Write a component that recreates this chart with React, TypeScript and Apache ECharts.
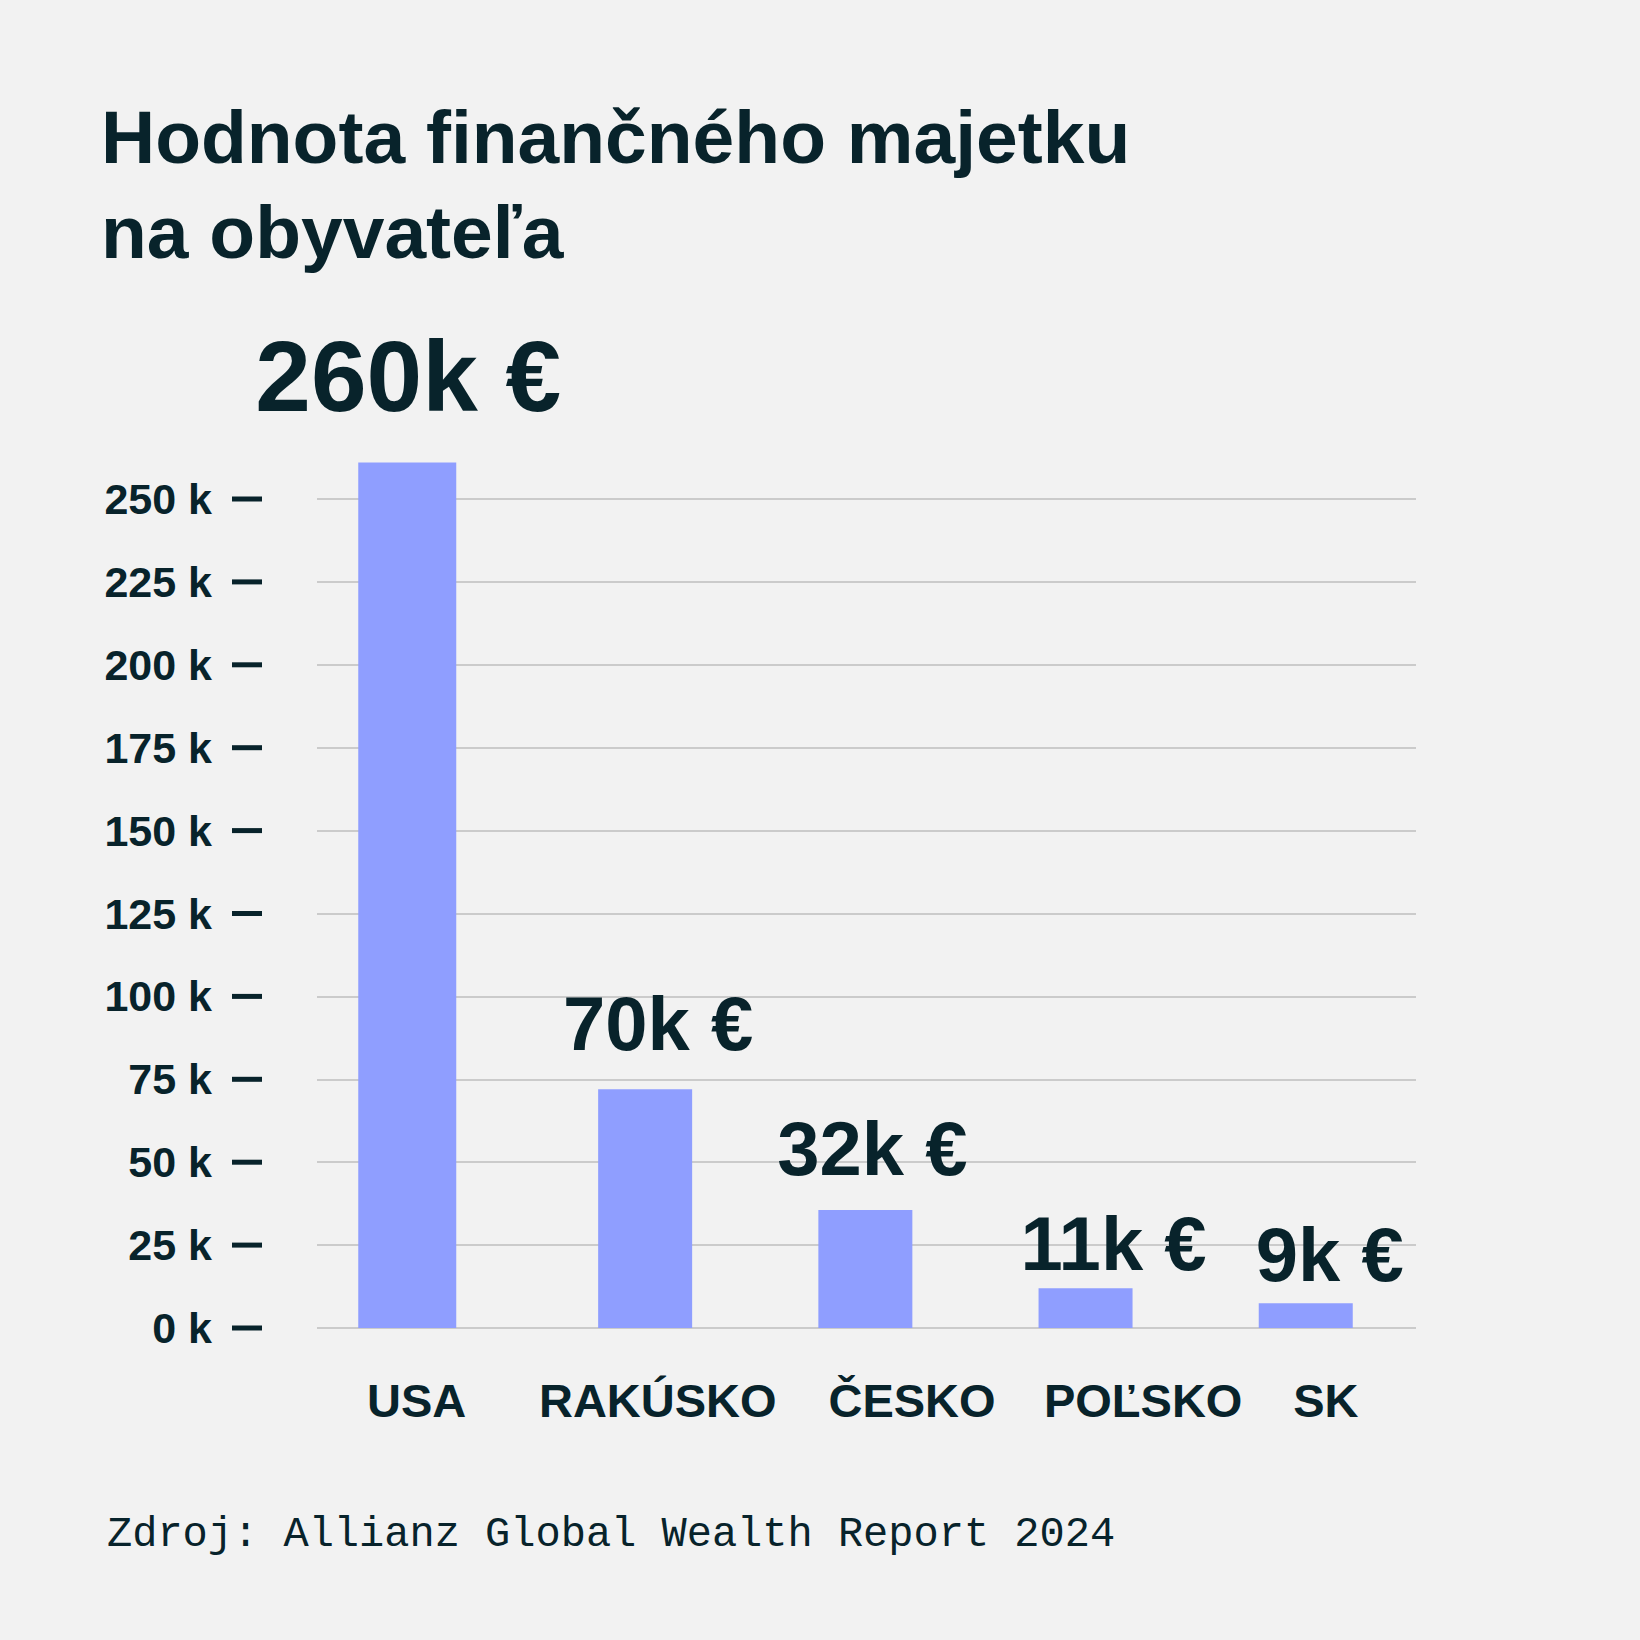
import React, { useEffect, useRef } from "react";
import * as echarts from "echarts";

const categories = ["USA", "RAKÚSKO", "ČESKO", "POĽSKO", "SK"];
const barValues = [261000, 72000, 35600, 12000, 7500];
const valueLabels = ["260k €", "70k €", "32k €", "11k €", "9k €"];
const yMin = 0;
const yMax = 250000;
const yInterval = 25000;
const titleText = "Hodnota finančného majetku\nna obyvateľa";
const sourceText = "Zdroj: Allianz Global Wealth Report 2024";

// styling (positions/offsets), kept apart from data
const labelFontSizes = [100, 76, 76, 76, 76];
const labelOffsets: [number, number][] = [
  [1, -37],
  [13, -28],
  [7, -23],
  [28, -7],
  [24, -11],
];
const catPads: [number, number][] = [
  [3, 0],
  [45, 0],
  [113, 0],
  [135, 0],
  [60, 0],
];

const DARK = "#08232b";
const BG = "#f2f2f2";
const BAR = "#8f9eff";
const SANS = "'Liberation Sans', Arial, sans-serif";
const MONO = "'Liberation Mono', 'DejaVu Sans Mono', monospace";

export default function App() {
  const ref = useRef<HTMLDivElement>(null);
  useEffect(() => {
    if (!ref.current) return;
    const chart = echarts.init(ref.current, null, { renderer: "svg" });
    const rich: any = {};
    catPads.forEach((p, i) => {
      rich["c" + i] = {
        fontFamily: SANS,
        fontWeight: "bold",
        fontSize: 47,
        color: DARK,
        padding: [0, p[1], 0, p[0]],
      };
    });
    const item = (v: number, i: number) => ({
      value: v,
      label: {
        formatter: valueLabels[i],
        fontSize: labelFontSizes[i],
        offset: labelOffsets[i],
      },
    });
    const baseLabel = {
      show: true,
      position: "top",
      distance: 0,
      fontFamily: SANS,
      fontWeight: "bold",
      color: DARK,
    };
    chart.setOption({
      animation: false,
      backgroundColor: BG,
      title: [
        {
          text: titleText,
          left: 101,
          top: 89,
          padding: 0,
          textStyle: {
            fontFamily: SANS,
            fontWeight: "bold",
            fontSize: 75,
            lineHeight: 95,
            color: DARK,
          },
        },
        {
          text: sourceText,
          left: 107,
          top: 1514,
          padding: 0,
          textStyle: {
            fontFamily: MONO,
            fontWeight: "normal",
            fontSize: 42,
            lineHeight: 42,
            color: DARK,
          },
        },
      ],
      grid: [
        { left: 317, right: 224, top: 499, bottom: 312 },
        { left: 305, right: 234, top: 499, bottom: 312 },
      ],
      xAxis: [
        {
          gridIndex: 0,
          type: "category",
          data: categories,
          show: false,
        },
        {
          gridIndex: 1,
          type: "category",
          data: categories,
          axisLine: { show: false },
          axisTick: { show: false },
          axisLabel: {
            interval: 0,
            margin: 49,
            formatter: (v: string, i: number) => `{c${i}|${v}}`,
            rich,
          },
        },
      ],
      yAxis: [
        {
          gridIndex: 0,
          type: "value",
          min: yMin,
          max: yMax,
          interval: yInterval,
          axisLine: { show: false },
          axisTick: { show: false },
          splitLine: { lineStyle: { color: "#cbcbcb", width: 2 } },
          axisLabel: {
            margin: 55,
            formatter: (v: number) => `{t|${v / 1000} k}{s|}{d|}`,
            rich: {
              t: {
                fontFamily: SANS,
                fontWeight: "bold",
                fontSize: 43,
                color: DARK,
              },
              s: { width: 20, height: 5 },
              d: { width: 30, height: 5, backgroundColor: DARK },
            },
          },
        },
        {
          gridIndex: 1,
          type: "value",
          min: yMin,
          max: yMax,
          interval: yInterval,
          show: false,
          splitLine: { show: false },
        },
      ],
      series: [
        {
          type: "bar",
          xAxisIndex: 1,
          yAxisIndex: 1,
          clip: false,
          barWidth: 98,
          barGap: "-79.9%",
          itemStyle: { color: BAR },
          label: baseLabel,
          data: barValues.map((v, i) => (i === 0 ? item(v, i) : "-")),
        },
        {
          type: "bar",
          xAxisIndex: 1,
          yAxisIndex: 1,
          clip: false,
          barWidth: 94,
          barGap: "-79.9%",
          itemStyle: { color: BAR },
          label: baseLabel,
          data: barValues.map((v, i) => (i === 0 ? "-" : item(v, i))),
        },
      ],
    });
    return () => chart.dispose();
  }, []);
  return (
    <div
      ref={ref}
      style={{
        position: "absolute",
        left: 0,
        top: 0,
        width: 1640,
        height: 1640,
        background: BG,
      }}
    />
  );
}
